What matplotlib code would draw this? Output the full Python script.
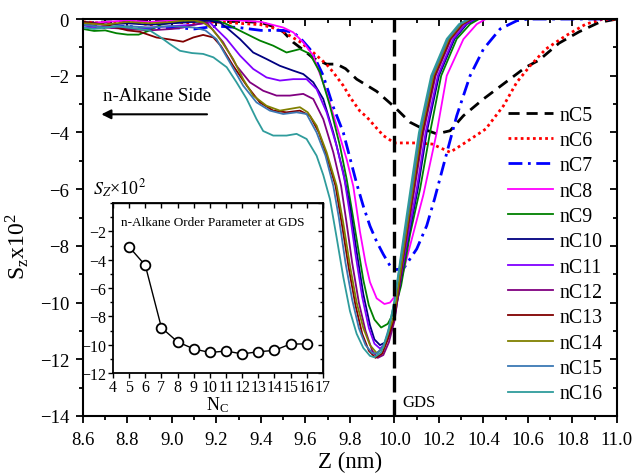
import numpy as np
import matplotlib
matplotlib.use("Agg")
import matplotlib.pyplot as plt
from matplotlib.ticker import MultipleLocator, FormatStrFormatter, NullFormatter

plt.rcParams['font.family'] = ['Liberation Serif', 'DejaVu Serif']
plt.rcParams['mathtext.fontset'] = 'stix'

# order parameter profiles S_z x 10^2 vs Z (nm), one list of (Z, S) per alkane
nC5 = [(8.6, -0.15), (8.7, -0.1), (8.8, -0.12), (8.9, -0.05), (9.0, -0.1), (9.1, -0.05),
       (9.2, -0.1), (9.3, -0.08), (9.4, -0.12), (9.45, -0.25), (9.5, -0.45), (9.545, -0.82),
       (9.6, -1.15), (9.635, -1.38), (9.695, -1.59), (9.74, -1.59), (9.78, -1.75), (9.83, -2.12),
       (9.92, -2.55), (10.0, -3.1), (10.07, -3.64), (10.13, -3.88), (10.19, -4.05), (10.25, -3.94),
       (10.31, -3.41), (10.40, -2.82), (10.50, -2.23), (10.59, -1.7), (10.65, -1.45), (10.74, -0.85),
       (10.83, -0.45), (10.92, -0.12), (11.0, 0.0)]
nC6 = [(8.6, -0.1), (8.7, -0.15), (8.8, -0.1), (8.9, -0.2), (9.0, -0.1), (9.1, -0.15),
       (9.2, -0.1), (9.3, -0.15), (9.4, -0.2), (9.45, -0.3), (9.5, -0.45), (9.575, -0.8),
       (9.635, -1.18), (9.695, -1.6), (9.725, -1.88), (9.77, -2.35), (9.80, -2.75), (9.845, -3.25),
       (9.875, -3.45), (9.92, -3.85), (9.95, -4.11), (10.0, -4.37), (10.10, -4.37), (10.17, -4.41),
       (10.25, -4.70), (10.32, -4.35), (10.41, -3.88), (10.49, -3.06), (10.55, -2.23), (10.61, -1.65),
       (10.68, -1.06), (10.77, -0.59), (10.86, -0.18), (10.93, -0.02), (11.0, 0.0)]
nC7 = [(8.6, -0.2), (8.7, -0.3), (8.8, -0.25), (8.9, -0.35), (9.0, -0.3), (9.1, -0.35),
       (9.2, -0.25), (9.3, -0.3), (9.4, -0.4), (9.5, -0.4), (9.545, -0.47), (9.58, -0.7),
       (9.62, -1.06), (9.65, -1.5), (9.68, -2.0), (9.725, -3.1), (9.77, -4.0), (9.80, -4.9),
       (9.83, -5.8), (9.86, -6.6), (9.89, -7.3), (9.92, -7.85), (9.95, -8.3), (9.98, -8.7),
       (10.0, -8.84), (10.04, -8.81), (10.10, -8.11), (10.145, -7.29), (10.18, -6.35), (10.22, -5.17),
       (10.28, -3.41), (10.34, -2.0), (10.40, -1.06), (10.475, -0.35), (10.55, -0.06), (10.6, 0.0),
       (11.0, 0.0)]
nC8 = [(8.6, -0.15), (8.7, -0.1), (8.8, -0.05), (8.9, -0.1), (9.0, -0.05), (9.1, -0.05),
       (9.2, -0.02), (9.3, -0.05), (9.4, -0.1), (9.5, -0.3), (9.545, -0.47), (9.59, -0.82),
       (9.635, -1.29), (9.695, -2.59), (9.74, -3.76), (9.785, -4.94), (9.815, -5.9), (9.845, -7.5),
       (9.87, -8.6), (9.89, -9.28), (9.92, -9.85), (9.955, -10.05), (9.98, -10.0), (10.0, -9.8),
       (10.03, -9.2), (10.07, -8.0), (10.13, -6.2), (10.19, -4.0), (10.235, -2.0), (10.31, -0.71),
       (10.37, -0.18), (10.41, 0.0), (11.0, 0.0)]
nC9 = [(8.6, -0.35), (8.65, -0.42), (8.7, -0.4), (8.75, -0.5), (8.8, -0.55), (8.85, -0.55),
       (8.9, -0.4), (8.95, -0.2), (9.0, -0.12), (9.1, -0.1), (9.2, -0.05), (9.246, -0.18),
       (9.336, -0.53), (9.395, -0.76), (9.455, -0.94), (9.515, -1.18), (9.575, -1.06), (9.62, -1.23),
       (9.665, -1.88), (9.71, -3.06), (9.755, -4.47), (9.785, -5.64), (9.81, -6.8), (9.835, -8.0),
       (9.86, -9.2), (9.885, -10.1), (9.91, -10.6), (9.94, -10.88), (9.97, -10.75), (10.0, -10.3),
       (10.03, -9.4), (10.07, -7.6), (10.115, -6.0), (10.16, -4.0), (10.21, -2.0), (10.28, -0.7),
       (10.34, -0.18), (10.38, 0.0), (11.0, 0.0)]
nC10 = [(8.6, -0.1), (8.7, -0.2), (8.8, -0.15), (8.9, -0.2), (9.0, -0.15), (9.1, -0.1),
        (9.16, -0.05), (9.216, -0.12), (9.26, -0.4), (9.306, -0.71), (9.365, -1.18), (9.425, -1.41),
        (9.485, -1.65), (9.545, -1.82), (9.59, -1.94), (9.635, -2.23), (9.68, -2.82), (9.725, -4.0),
        (9.77, -5.41), (9.80, -6.6), (9.83, -8.2), (9.86, -9.7), (9.89, -10.8), (9.91, -11.3),
        (9.935, -11.5), (9.96, -11.4), (9.98, -11.1), (10.0, -10.55), (10.05, -8.2), (10.105, -6.0),
        (10.145, -4.0), (10.2, -2.0), (10.27, -0.7), (10.325, -0.18), (10.365, 0.0), (11.0, 0.0)]
nC11 = [(8.6, -0.3), (8.7, -0.25), (8.8, -0.35), (8.9, -0.3), (9.0, -0.25), (9.1, -0.2),
        (9.17, -0.12), (9.246, -0.71), (9.306, -1.29), (9.365, -1.76), (9.425, -2.06), (9.485, -2.17),
        (9.545, -2.12), (9.605, -2.12), (9.65, -2.47), (9.695, -3.29), (9.74, -4.47), (9.775, -5.64),
        (9.80, -6.9), (9.825, -8.3), (9.855, -9.8), (9.885, -10.9), (9.91, -11.45), (9.935, -11.62),
        (9.96, -11.45), (9.98, -11.05), (10.0, -10.45), (10.05, -8.1), (10.1, -6.0), (10.14, -4.0),
        (10.195, -2.0), (10.265, -0.7), (10.32, -0.18), (10.36, 0.0), (11.0, 0.0)]
nC12 = [(8.6, -0.2), (8.7, -0.3), (8.8, -0.35), (8.9, -0.4), (9.0, -0.35), (9.05, -0.3),
        (9.1, -0.2), (9.156, -0.12), (9.23, -0.82), (9.29, -1.65), (9.35, -2.23), (9.41, -2.53),
        (9.47, -2.70), (9.53, -2.70), (9.59, -2.64), (9.635, -2.82), (9.68, -3.53), (9.725, -4.70),
        (9.76, -5.88), (9.785, -7.2), (9.81, -8.6), (9.84, -10.0), (9.87, -11.0), (9.90, -11.7),
        (9.925, -11.95), (9.95, -11.85), (9.975, -11.4), (10.0, -10.65), (10.045, -8.2), (10.09, -6.0),
        (10.13, -4.0), (10.185, -2.0), (10.255, -0.7), (10.31, -0.18), (10.35, 0.0), (11.0, 0.0)]
nC13 = [(8.6, -0.1), (8.65, -0.15), (8.7, -0.2), (8.75, -0.3), (8.8, -0.4), (8.856, -0.45),
        (8.93, -0.65), (8.99, -0.72), (9.05, -0.80), (9.096, -0.65), (9.14, -0.56), (9.186, -0.65),
        (9.22, -0.95), (9.275, -1.65), (9.336, -2.35), (9.395, -2.94), (9.455, -3.23), (9.515, -3.29),
        (9.575, -3.23), (9.62, -3.41), (9.66, -4.0), (9.695, -4.82), (9.735, -5.88), (9.765, -7.3),
        (9.795, -8.8), (9.825, -10.1), (9.855, -11.1), (9.885, -11.7), (9.915, -11.95), (9.945, -11.8),
        (9.97, -11.3), (10.0, -10.5), (10.04, -8.3), (10.085, -6.0), (10.125, -4.0), (10.18, -2.0),
        (10.25, -0.7), (10.305, -0.18), (10.345, 0.0), (11.0, 0.0)]
nC14 = [(8.6, -0.15), (8.7, -0.2), (8.8, -0.1), (8.9, -0.15), (9.0, -0.1), (9.05, -0.05),
        (9.1, -0.05), (9.14, -0.12), (9.18, -0.35), (9.216, -0.71), (9.275, -1.41), (9.32, -2.12),
        (9.365, -2.70), (9.425, -3.06), (9.485, -3.23), (9.53, -3.17), (9.575, -3.11), (9.61, -3.29),
        (9.65, -3.76), (9.695, -4.70), (9.74, -5.88), (9.77, -7.2), (9.80, -8.7), (9.83, -10.0),
        (9.86, -10.9), (9.89, -11.5), (9.92, -11.78), (9.95, -11.6), (9.975, -11.0), (10.0, -10.4),
        (10.04, -8.2), (10.082, -6.0), (10.12, -4.0), (10.175, -2.0), (10.245, -0.7), (10.30, -0.18),
        (10.34, 0.0), (11.0, 0.0)]
nC15 = [(8.6, -0.2), (8.7, -0.3), (8.8, -0.25), (8.9, -0.3), (9.0, -0.25), (9.1, -0.3),
        (9.15, -0.4), (9.20, -0.71), (9.26, -1.53), (9.32, -2.35), (9.38, -2.94), (9.44, -3.23),
        (9.50, -3.35), (9.56, -3.29), (9.605, -3.35), (9.65, -4.0), (9.69, -4.82), (9.725, -5.88),
        (9.75, -7.0), (9.78, -8.6), (9.81, -9.9), (9.84, -10.9), (9.87, -11.5), (9.90, -11.78),
        (9.92, -11.8), (9.95, -11.55), (9.975, -10.9), (10.0, -9.95), (10.04, -7.9), (10.077, -6.0),
        (10.115, -4.0), (10.17, -2.0), (10.24, -0.7), (10.295, -0.18), (10.335, 0.0), (11.0, 0.0)]
nC16 = [(8.6, -0.3), (8.65, -0.35), (8.7, -0.3), (8.75, -0.25), (8.8, -0.3), (8.85, -0.35),
        (8.9, -0.4), (8.95, -0.65), (8.99, -0.88), (9.036, -1.12), (9.09, -1.2), (9.14, -1.23),
        (9.186, -1.35), (9.246, -1.70), (9.29, -2.23), (9.336, -2.82), (9.38, -3.53), (9.41, -3.95),
        (9.455, -4.11), (9.515, -4.11), (9.56, -4.05), (9.605, -4.23), (9.65, -4.82), (9.68, -5.5),
        (9.71, -6.35), (9.74, -7.7), (9.77, -9.1), (9.80, -10.3), (9.83, -11.1), (9.86, -11.6),
        (9.89, -11.88), (9.91, -11.93), (9.94, -11.75), (9.97, -11.1), (10.0, -9.95), (10.035, -8.0),
        (10.072, -6.0), (10.11, -4.0), (10.165, -2.0), (10.235, -0.7), (10.29, -0.18), (10.33, 0.0),
        (11.0, 0.0)]

profiles = [nC5, nC6, nC7, nC8, nC9, nC10, nC11, nC12, nC13, nC14, nC15, nC16]
labels = ['nC5', 'nC6', 'nC7', 'nC8', 'nC9', 'nC10', 'nC11', 'nC12', 'nC13', 'nC14', 'nC15', 'nC16']
colors = ['black', 'red', 'blue', '#ff00ff', '#008000', '#000080', '#8000ff', '#800080',
          '#800000', '#808000', '#3c78b4', '#2f9c9c']
styles = [(0, (4, 2.5)), (0, (1, 1.2)), (0, (5, 2, 1, 2)), '-', '-', '-', '-', '-', '-', '-', '-', '-']
widths = [2.0, 2.0, 2.0, 1.3, 1.3, 1.3, 1.3, 1.3, 1.3, 1.3, 1.3, 1.3]

# order parameter at the GDS vs carbon number
n_carbon = [5, 6, 7, 8, 9, 10, 11, 12, 13, 14, 15, 16]
s_gds = [-3.1, -4.4, -8.8, -9.8, -10.3, -10.55, -10.45, -10.65, -10.5, -10.4, -9.95, -9.95]

z_gds = 10.0


def inward_twins(a, xmaj, xmin, ymaj, ymin, lw, lmaj, lmin):
    # top and right ticks pointing into the frame, no labels
    top = a.secondary_xaxis('top')
    right = a.secondary_yaxis('right')
    for sec, maj, mnr in ((top.xaxis, xmaj, xmin), (right.yaxis, ymaj, ymin)):
        sec.set_major_locator(MultipleLocator(maj))
        if mnr:
            sec.set_minor_locator(MultipleLocator(mnr))
        sec.set_major_formatter(NullFormatter())
    for sec in (top, right):
        sec.tick_params(which='both', direction='in', width=lw)
        sec.tick_params(which='major', length=lmaj)
        sec.tick_params(which='minor', length=lmin)
        for sp in sec.spines.values():
            sp.set_linewidth(lw)


fig = plt.figure(figsize=(6.36, 4.77), dpi=100)
ax = fig.add_axes([0.1305, 0.1258, 0.8395, 0.8322])

for prof, lab, c, ls, lw in zip(profiles, labels, colors, styles, widths):
    z = [p[0] for p in prof]
    s = [p[1] for p in prof]
    ax.plot(z, s, color=c, linestyle=ls, linewidth=lw, label=lab)

ax.axvline(z_gds, color='black', linestyle=(0, (5, 2.2)), linewidth=2.4)
ax.text(10.035, -13.5, 'GDS', fontsize=12, va='center')

ax.set_xlim(8.6, 11.0)
ax.set_ylim(-14, 0)
ax.xaxis.set_major_locator(MultipleLocator(0.2))
ax.xaxis.set_minor_locator(MultipleLocator(0.1))
ax.yaxis.set_major_locator(MultipleLocator(2))
ax.yaxis.set_minor_locator(MultipleLocator(1))
ax.xaxis.set_major_formatter(FormatStrFormatter('%.1f'))
ax.tick_params(which='both', direction='out', labelsize=13.5, width=1.3)
ax.tick_params(which='major', length=5)
ax.tick_params(which='minor', length=3)
ax.tick_params(axis='x', pad=6)
ax.tick_params(axis='y', pad=5)
for a in ['top', 'bottom', 'left', 'right']:
    ax.spines[a].set_linewidth(1.5)
inward_twins(ax, 0.2, 0.1, 2, 1, 1.3, 5, 3)

ax.set_xlabel('Z (nm)', fontsize=16.5, labelpad=2)
ax.set_ylabel(r'S$_\mathregular{z}$x10$^\mathregular{2}$', fontsize=17)
ax.yaxis.set_label_coords(-0.098, 0.43)

ax.legend(loc='upper left', bbox_to_anchor=(0.781, 0.802), frameon=False, fontsize=14.3,
          handlelength=2.26, handletextpad=0.35, labelspacing=0.32, borderaxespad=0)

ax.annotate('', xy=(8.67, -3.36), xytext=(9.17, -3.36),
            arrowprops=dict(arrowstyle='-|>', color='black', lw=1.5, mutation_scale=14))
ax.text(8.69, -2.85, 'n-Alkane Side', fontsize=13.5)

fig.text(0.146, 0.592, r'$S_Z$×10$^2$', fontsize=13)

# inset: order parameter at GDS
ins = fig.add_axes([0.1777, 0.2159, 0.330, 0.3564])
ins.plot(n_carbon, s_gds, color='black', linewidth=1.0, marker='o', markersize=7,
         markerfacecolor='white', markeredgecolor='black', markeredgewidth=1.3)
ins.set_xlim(4, 17)
ins.set_ylim(-12, 0)
ins.xaxis.set_major_locator(MultipleLocator(1))
ins.set_yticks([-12, -10, -8, -6, -4, -2])
ins.yaxis.set_minor_locator(MultipleLocator(1))
ins.tick_params(which='both', direction='out', labelsize=11.5, width=1.0)
ins.tick_params(which='major', length=3.5, pad=1.5)
ins.tick_params(axis='x', pad=0.5)
ins.tick_params(which='minor', length=2)
for a in ['top', 'bottom', 'left', 'right']:
    ins.spines[a].set_linewidth(1.3)
inward_twins(ins, 1, None, 2, 1, 1.0, 3.5, 2)
ins.set_xlabel(r'N$_\mathregular{C}$', fontsize=13, labelpad=0)
ins.text(0.04, 0.87, 'n-Alkane Order Parameter at GDS', transform=ins.transAxes, fontsize=9.5)

fig.savefig('out.png', dpi=100)
